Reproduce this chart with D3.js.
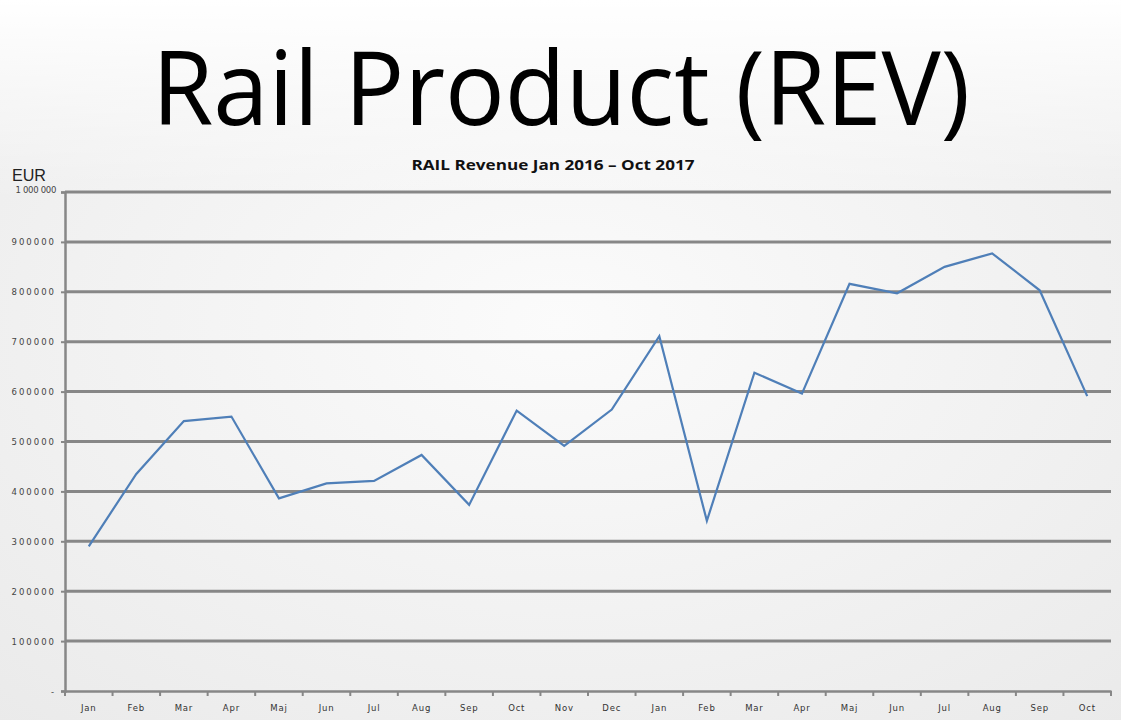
<!DOCTYPE html>
<html><head><meta charset="utf-8">
<script src="https://cdn.jsdelivr.net/npm/d3@7"></script>
<style>html,body{margin:0;padding:0;background:#fff;}svg{display:block;}</style>
</head><body>
<svg id="c" width="1121" height="720"></svg>
<script>
const months = ["Jan","Feb","Mar","Apr","Maj","Jun","Jul","Aug","Sep","Oct","Nov","Dec",
                "Jan","Feb","Mar","Apr","Maj","Jun","Jul","Aug","Sep","Oct"];
const revenue = [290000,435000,541000,550000,386000,416000,421000,473000,373000,562000,491000,564000,
                 711000,341000,638000,596000,816000,797000,850000,877000,803000,591000];
const yTicks = [0,100000,200000,300000,400000,500000,600000,700000,800000,900000,1000000];
const yTickLabels = ["-","100000","200000","300000","400000","500000","600000","700000","800000","900000","1 000 000"];

const svg = d3.select("#c");
const W = 1121, H = 720;

// background
const defs = svg.append("defs");
const rg = defs.append("radialGradient").attr("id","bg").attr("cx","50%").attr("cy","45%").attr("r","75%");
rg.append("stop").attr("offset","0%").attr("stop-color","#fbfbfb");
rg.append("stop").attr("offset","100%").attr("stop-color","#eaeaea");
svg.append("rect").attr("width",W).attr("height",H).attr("fill","url(#bg)");
const tg = defs.append("linearGradient").attr("id","tg").attr("x1","0").attr("x2","0").attr("y1","0").attr("y2","1");
tg.append("stop").attr("offset","0%").attr("stop-color","#ffffff").attr("stop-opacity",1);
tg.append("stop").attr("offset","100%").attr("stop-color","#ffffff").attr("stop-opacity",0);
svg.append("rect").attr("width",W).attr("height",200).attr("fill","url(#tg)");

const x = d3.scaleBand().domain(d3.range(months.length)).range([65,1111]);
const y = d3.scaleLinear().domain([0,1000000]).range([691,192]);

// title
svg.append("text").attr("x",561).attr("y",125).attr("text-anchor","middle")
  .attr("font-family","Open Sans, DejaVu Sans, sans-serif").attr("font-size",102)
  .attr("fill","#000").attr("textLength",818).attr("lengthAdjust","spacingAndGlyphs")
  .text("Rail Product (REV)");

svg.append("text").attr("x",553).attr("y",170).attr("text-anchor","middle")
  .attr("font-family","Open Sans, Liberation Sans, sans-serif").attr("font-weight","bold").attr("font-size",13.5)
  .attr("fill","#111").attr("textLength",283).attr("lengthAdjust","spacingAndGlyphs")
  .text("RAIL Revenue Jan 2016 – Oct 2017");

svg.append("text").attr("x",12).attr("y",181)
  .attr("font-family","Liberation Sans, Arial, sans-serif").attr("font-size",17).attr("fill","#222")
  .attr("textLength",34).attr("lengthAdjust","spacingAndGlyphs").text("EUR");

// gridlines
const gridVals = yTicks.slice(1);
svg.append("g").selectAll("line").data(gridVals).join("line")
  .attr("x1",65).attr("x2",1111).attr("y1",d=>y(d)).attr("y2",d=>y(d))
  .attr("stroke","#878787").attr("stroke-width",3);

// y axis
const yAxis = d3.axisLeft(y).tickValues(yTicks).tickSize(4).tickFormat((d,i)=>yTickLabels[i]);
const ya = svg.append("g").attr("transform","translate(65,0)").call(yAxis);
ya.select(".domain").attr("stroke","#878787").attr("stroke-width",2.5);
ya.selectAll(".tick line").attr("stroke","#878787").attr("stroke-width",2);
ya.selectAll(".tick text").attr("font-family","DejaVu Sans, sans-serif").attr("font-size",8.5)
  .attr("fill","#444").attr("letter-spacing",2).attr("x",-9).attr("dy","0.36em");
ya.selectAll(".tick").filter(d=>d===1000000).select("text").attr("letter-spacing",-0.3).attr("dy","0.1em");

// x axis
const xAxis = d3.axisBottom(x).tickSize(0).tickFormat(i=>months[i]);
const xa = svg.append("g").attr("transform","translate(0,691)").call(xAxis);
xa.select(".domain").attr("stroke","#878787").attr("stroke-width",2.5);
xa.selectAll(".tick text").attr("font-family","DejaVu Sans, sans-serif").attr("font-size",8.5)
  .attr("fill","#333").attr("letter-spacing",0.8).attr("dy","0").attr("y",20);
// category boundary ticks
const bounds = d3.range(months.length+1).map(i=> i<months.length ? x(i) : x.range()[1]);
svg.append("g").selectAll("line").data(bounds).join("line")
  .attr("x1",d=>d).attr("x2",d=>d).attr("y1",691).attr("y2",696)
  .attr("stroke","#878787").attr("stroke-width",2);

// line
const line = d3.line().x((d,i)=>x(i)+x.bandwidth()/2).y(d=>y(d));
svg.append("path").datum(revenue).attr("d",line).attr("fill","none")
  .attr("stroke","#4f7fb8").attr("stroke-width",2.2).attr("stroke-linejoin","miter");
</script>
</body></html>
